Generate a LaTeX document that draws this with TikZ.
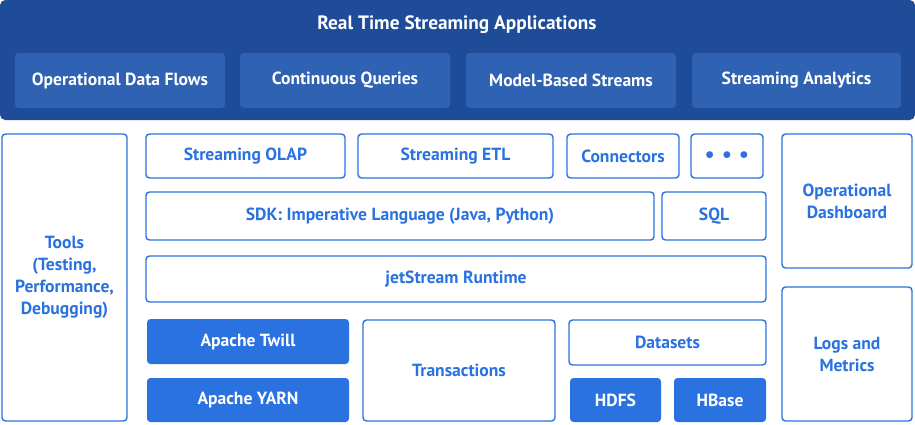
\documentclass[tikz,border=0pt]{standalone}
\usepackage{fontspec}
\setmainfont{PT Sans}
\begin{document}
\begin{tikzpicture}[x=0.02cm,y=-0.02cm,
  bx/.style={draw=lb,line width=0.8pt,rounded corners=2pt,fill=white,text=lb,font=\bfseries\fontsize{10}{12.5}\selectfont,align=center},
  fb/.style={fill=lb,rounded corners=2pt,text=white,font=\bfseries\fontsize{10}{12.5}\selectfont,align=center},
  db/.style={fill=mb,rounded corners=2pt,text=white,font=\bfseries\fontsize{10}{12.5}\selectfont,align=center}]
\definecolor{lb}{HTML}{2A72E0}
\definecolor{dkb}{HTML}{1E4C98}
\definecolor{mb}{HTML}{2F62B2}
\useasboundingbox (0,0) rectangle (915,424);
\newcommand{\bxx}[6]{\path[#1] (#2,#3) rectangle (#4,#5); \node[#1,draw=none,fill=none,rectangle] (n#2#3) at ({(#2+#4)/2},{(#3+#5)/2}) {#6};}
\fill[dkb,rounded corners=3pt] (0,0) rectangle (915,120);
\node[text=white,font=\bfseries\fontsize{11}{13}\selectfont] (title) at (457,25) {Real Time Streaming Applications};
\bxx{db}{15}{53}{225}{108}{Operational Data Flows}
\bxx{db}{240}{53}{450}{108}{Continuous Queries}
\bxx{db}{466}{53}{676}{108}{Model-Based Streams}
\bxx{db}{692}{53}{901}{108}{Streaming Analytics}
\bxx{bx}{2}{134}{127}{421}{Tools\\(Testing,\\Performance,\\Debugging)}
\bxx{bx}{146}{134}{345}{178}{Streaming OLAP}
\bxx{bx}{358}{134}{553}{178}{Streaming ETL}
\bxx{bx}{567}{134}{679}{178}{Connectors}
\bxx{bx}{691}{134}{763}{178}{$\bullet\ \bullet\ \bullet$}
\bxx{bx}{146}{192}{654}{240}{SDK: Imperative Language (Java, Python)}
\bxx{bx}{662}{192}{766}{240}{SQL}
\bxx{bx}{146}{256}{766}{302}{jetStream Runtime}
\bxx{fb}{147}{319}{349}{364}{Apache Twill}
\bxx{fb}{147}{378}{349}{422}{Apache YARN}
\bxx{bx}{363}{320}{555}{421}{Transactions}
\bxx{bx}{569}{320}{766}{365}{Datasets}
\bxx{fb}{570}{378}{661}{422}{HDFS}
\bxx{fb}{674}{378}{766}{422}{HBase}
\bxx{bx}{782}{134}{912}{268}{Operational\\Dashboard}
\bxx{bx}{782}{287}{912}{421}{Logs and\\Metrics}
\end{tikzpicture}
\end{document}
